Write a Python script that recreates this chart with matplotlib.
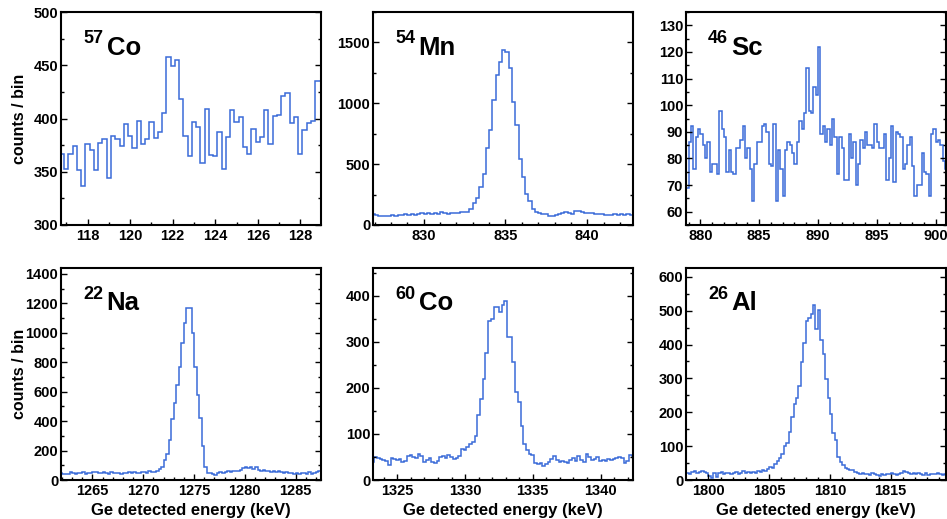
import numpy as np
import matplotlib
matplotlib.use("Agg")
import matplotlib.pyplot as plt
from matplotlib.ticker import MultipleLocator

plt.rcParams['font.family'] = ['Liberation Sans', 'DejaVu Sans']

# ---------------- data (counts per bin) ----------------
# 57Co : bins of 0.2 keV starting at 116.7 keV
co57_start, co57_width = 116.7, 0.2
co57_counts = [367, 353, 367, 374, 352, 337, 376, 370, 352, 377,
               381, 344, 384, 381, 374, 395, 384, 372, 398, 376,
               381, 397, 382, 387, 405, 458, 449, 455, 418, 384,
               365, 397, 392, 358, 409, 366, 365, 387, 353, 383,
               408, 397, 401, 373, 367, 390, 378, 383, 408, 376,
               402, 403, 421, 424, 396, 401, 367, 389, 396, 398,
               435, 435]

# 54Mn : bins of 0.2 keV starting at 826.8 keV
mn54_start, mn54_width = 826.8, 0.2
mn54_counts = [88, 80, 76, 74, 75, 78, 84, 76, 86, 80, 90, 84, 92, 86, 94, 98,
               90, 96, 92, 100, 94, 104, 98, 92, 100, 96,
               97, 104, 108, 110, 131, 178, 219, 314, 418, 634, 779, 1025, 1235,
               1339, 1440, 1425, 1292, 1011, 825, 546, 396, 258, 199, 128, 109, 97, 89,
               92, 78, 72, 84, 88, 96, 108, 100, 92, 112, 118, 104, 96, 98, 100,
               92, 88, 90, 80, 86, 84, 92, 80, 90, 86, 94, 84, 92, 90]

# 46Sc : bins of 0.2 keV starting at 878.8 keV
sc46_start, sc46_width = 878.8, 0.2
sc46_counts = [69, 86, 92, 76, 88, 91, 89, 85, 80, 86, 75, 78, 78, 74, 98, 91,
               88, 75, 83, 75, 74, 84, 84, 87, 92, 80, 84, 76, 64, 78, 86, 86,
               92, 93, 90, 78, 77, 93, 64, 83, 76, 66, 83, 86, 85, 82, 78, 86,
               94, 91, 97, 114, 98, 97, 107, 104, 122, 89, 92, 86, 91, 85, 95,
               88, 74, 88, 84, 72, 72, 89, 80, 86, 70, 78, 87, 84, 90, 85, 85,
               84, 93, 86, 84, 84, 89, 72, 80, 92, 71, 90, 89, 88, 76, 78, 85,
               88, 77, 66, 70, 70, 82, 75, 74, 66, 89, 91, 86, 87, 85, 79, 76]

# 22Na : bins of 0.25 keV starting at 1261.75 keV
na22_start, na22_width = 1261.75, 0.25
na22_counts = [48, 44, 38, 42, 52, 46, 40, 50, 48, 54, 44, 50, 46, 52, 56, 48,
               50, 54, 48, 44, 52, 46, 50, 48, 44, 50, 46, 52, 48, 54, 50, 46,
               52, 56, 50, 58, 54, 56,
               64, 72, 90, 135, 180, 270, 415, 520, 645, 770, 930, 1065, 1170,
               1170, 1000, 765, 580, 420, 230, 90, 50,
               46, 42, 34, 50, 56, 48, 54, 58, 52, 60, 64, 58, 70, 84, 88, 80,
               90, 76, 86, 70, 62, 66, 58, 62, 56, 60, 52, 58, 54, 48, 52, 46,
               50, 44, 48, 40, 46, 50, 44, 52, 40, 48, 56, 60]

# 60Co : bins of 0.2 keV starting at 1323.1 keV
co60_start, co60_width = 1323.1, 0.2
co60_counts = [40, 50, 48, 46, 44, 42, 32, 48, 46, 44, 46, 40, 42, 52, 54, 50,
               48, 56, 52, 40, 44, 48, 38, 36, 42, 50, 52, 48, 54, 50, 46, 48, 52,
               68, 66, 72, 78, 82, 95, 140, 175, 220, 275, 345, 350, 375, 375,
               365, 380, 388, 310, 310, 257, 192, 170, 117, 78, 65, 56, 55, 37,
               35, 36, 30, 34, 40, 46, 52, 44, 40, 42, 38, 36, 44, 48, 42, 52,
               44, 40, 56, 50, 44, 46, 50, 42, 44, 42, 46, 44, 46, 48, 50, 48,
               36, 42, 54, 52]

# 26Al : bins of 0.2 keV starting at 1798.0 keV
al26_start, al26_width = 1798.0, 0.2
al26_counts = [20, 22, 18, 24, 26, 22, 25, 27, 24, 22, 13, 7, 20, 10, 22, 24,
               18, 20, 22, 18, 20, 24, 19, 22, 26, 20, 24, 22, 25, 20, 28, 24,
               30, 28,
               33, 38, 36, 46, 55, 64, 78, 100, 108, 142, 186, 225, 242, 278,
               347, 406, 470, 478, 490, 517, 445, 501, 412, 372, 299, 243, 196,
               139, 119, 69, 52, 44, 36, 33, 29, 29, 24,
               22, 18, 20, 17, 19, 16, 20, 18, 15, 12, 18, 16, 19, 17, 20, 18,
               16, 19, 21, 26, 24, 22, 18, 20, 17, 21, 18, 16, 20, 15, 18, 19,
               17, 20, 18, 16, 19, 33]

labels_mass = ["57", "54", "46", "22", "60", "26"]
labels_elem = ["Co", "Mn", "Sc", "Na", "Co", "Al"]

xlims = [(116.75, 128.97), (826.9, 842.8), (878.78, 900.88),
         (1261.9, 1287.5), (1323.2, 1342.4), (1798.15, 1819.55)]
ylims = [(300, 500), (0, 1750), (55, 135), (0, 1440), (0, 460), (0, 626)]
xmajor = [2, 5, 5, 5, 5, 5]
ymajor = [50, 500, 10, 200, 100, 100]

hists = [(co57_start, co57_width, co57_counts),
         (mn54_start, mn54_width, mn54_counts),
         (sc46_start, sc46_width, sc46_counts),
         (na22_start, na22_width, na22_counts),
         (co60_start, co60_width, co60_counts),
         (al26_start, al26_width, al26_counts)]

# ---------------- figure ----------------
W, H = 947, 519
fig = plt.figure(figsize=(W / 100, H / 100), dpi=100)

col_left = [61, 373, 686]
ax_w = 260
rows = [(12, 225), (268, 480)]
line_color = '#3a6bd8'

for i, (start, width, counts) in enumerate(hists):
    r, c = divmod(i, 3)
    top, bot = rows[r]
    ax = fig.add_axes([col_left[c] / W, 1 - bot / H, ax_w / W, (bot - top) / H])
    counts = np.asarray(counts, dtype=float)
    edges = start + width * np.arange(len(counts) + 1)
    ax.stairs(counts, edges, baseline=None, color=line_color, lw=1.1)
    ax.set_xlim(*xlims[i])
    ax.set_ylim(*ylims[i])
    ax.xaxis.set_major_locator(MultipleLocator(xmajor[i]))
    ax.xaxis.set_minor_locator(MultipleLocator(1))
    ax.yaxis.set_major_locator(MultipleLocator(ymajor[i]))
    ax.yaxis.set_minor_locator(MultipleLocator(ymajor[i] / 2))
    ax.tick_params(which='both', direction='in', top=False, right=True,
                   width=1.0, labelsize=10.5, colors='black')
    ax.tick_params(which='major', length=4.0)
    ax.tick_params(which='minor', length=2.2)
    ax.tick_params(axis='x', pad=3.0)
    ax.tick_params(axis='y', pad=2.0)
    for lab in ax.get_xticklabels() + ax.get_yticklabels():
        lab.set_fontweight('bold')
    for sp in ax.spines.values():
        sp.set_linewidth(1.5)
    ax.text(0.085, 0.855, labels_mass[i], transform=ax.transAxes,
            fontsize=13, fontweight='bold', va='baseline', ha='left')
    ax.text(0.175, 0.80, labels_elem[i], transform=ax.transAxes,
            fontsize=18.5, fontweight='bold', va='baseline', ha='left')

# y labels
for top, bot in rows:
    fig.text(19 / W, 1 - ((top + bot) / 2) / H, "counts / bin", rotation=90,
             ha='center', va='center', fontsize=11.5, fontweight='bold')
# x labels
for c in range(3):
    fig.text((col_left[c] + ax_w / 2) / W, 1 - 510 / H, "Ge detected energy (keV)",
             ha='center', va='center', fontsize=12, fontweight='bold')

fig.savefig("out.png", dpi=100)
